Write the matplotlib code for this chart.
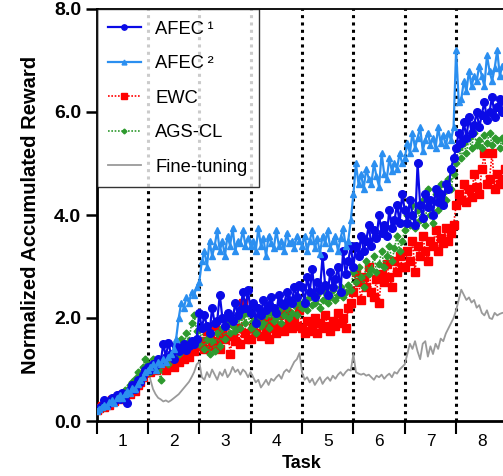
import matplotlib
matplotlib.use("Agg")
import matplotlib.pyplot as plt
import numpy as np

plt.rcParams['font.family'] = ['Liberation Sans', 'DejaVu Sans']

# ---------------- data (20 samples per task, 8 tasks) ----------------
tasks = [1, 2, 3, 4, 5, 6, 7, 8]
points_per_task = 20

afec1 = [
    0.22, 0.26, 0.30, 0.40, 0.32, 0.36, 0.45, 0.38, 0.50, 0.42, 0.55, 0.48, 0.35, 0.60, 0.70, 0.62, 0.80, 0.75, 0.90, 1.00,
    1.05, 1.00, 1.10, 1.08, 1.20, 1.15, 1.50, 1.25, 1.52, 1.30, 1.20, 1.45, 1.35, 1.40, 1.50, 1.38, 1.45, 1.55, 1.50, 1.60,
    2.10, 1.80, 2.05, 1.85, 1.70, 2.20, 1.90, 1.95, 2.45, 2.00, 1.85, 2.10, 2.00, 1.95, 2.30, 2.05, 2.15, 2.50, 2.20, 2.55,
    2.10, 2.30, 1.90, 2.20, 2.05, 2.35, 2.15, 2.25, 2.40, 2.20, 2.10, 2.45, 2.30, 2.25, 2.50, 2.35, 2.30, 2.60, 2.40, 2.65,
    2.60, 2.30, 2.80, 2.50, 2.95, 2.40, 2.70, 2.55, 3.20, 2.65, 2.45, 2.90, 2.60, 2.75, 3.00, 2.50, 3.30, 2.85, 3.10, 3.40,
    3.00, 3.40, 3.20, 3.60, 3.30, 3.50, 3.80, 3.40, 3.70, 3.55, 4.00, 3.65, 3.80, 3.60, 4.10, 3.75, 3.90, 4.20, 3.85, 4.40,
    4.10, 3.85, 4.30, 4.00, 3.80, 5.00, 4.20, 3.95, 4.40, 4.15, 4.30, 4.00, 4.50, 4.25, 4.40, 4.20, 4.60, 4.50, 4.90, 5.10,
    5.30, 5.60, 5.40, 5.80, 5.50, 5.90, 5.60, 5.75, 6.00, 5.70, 5.95, 6.20, 5.85, 6.00, 6.30, 5.90, 6.10, 6.25, 6.00, 6.20,
]

afec2 = [
    0.20, 0.24, 0.28, 0.32, 0.30, 0.36, 0.40, 0.35, 0.45, 0.50, 0.44, 0.52, 0.58, 0.55, 0.65, 0.62, 0.72, 0.80, 0.85, 0.95,
    1.00, 1.05, 1.10, 1.00, 1.15, 1.10, 1.20, 1.15, 1.25, 1.30, 1.40, 1.60, 2.00, 2.30, 2.20, 2.40, 2.30, 2.50, 2.45, 2.60,
    2.70, 3.10, 3.30, 3.00, 3.50, 3.20, 3.40, 3.70, 3.30, 3.50, 3.20, 3.60, 3.40, 3.75, 3.30, 3.50, 3.45, 3.70, 3.40, 3.55,
    3.40, 3.50, 3.30, 3.75, 3.40, 3.55, 3.20, 3.60, 3.45, 3.35, 3.70, 3.40, 3.50, 3.30, 3.65, 3.45, 3.50, 3.35, 3.60, 3.50,
    3.40, 3.60, 3.30, 3.50, 3.70, 3.35, 3.55, 3.25, 3.60, 3.45, 3.70, 3.35, 3.50, 3.60, 3.30, 3.55, 3.75, 3.40, 3.50, 3.90,
    4.40, 5.00, 4.60, 4.80, 4.50, 4.90, 4.70, 4.60, 5.00, 4.75, 4.55, 5.20, 4.80, 4.70, 5.10, 4.85, 5.00, 4.90, 5.20, 5.00,
    5.10, 5.40, 5.20, 5.60, 5.30, 5.50, 5.70, 5.25, 5.45, 5.60, 5.35, 5.50, 5.30, 5.70, 5.40, 5.55, 5.35, 5.60, 5.45, 5.70,
    7.20, 6.20, 6.25, 6.60, 6.40, 6.80, 6.50, 6.70, 6.60, 6.90, 6.70, 6.50, 7.10, 6.80, 6.60, 6.85, 7.20, 6.70, 6.90, 6.75,
]

ewc = [
    0.22, 0.26, 0.30, 0.28, 0.35, 0.32, 0.40, 0.38, 0.45, 0.42, 0.50, 0.48, 0.55, 0.52, 0.60, 0.58, 0.70, 0.75, 0.85, 0.95,
    1.00, 0.95, 1.05, 1.00, 1.10, 1.05, 1.15, 1.00, 1.20, 1.10, 1.05, 1.25, 1.15, 1.30, 1.20, 1.35, 1.25, 1.40, 1.35, 1.45,
    1.50, 1.55, 1.40, 1.75, 1.60, 1.45, 1.85, 1.55, 1.40, 1.70, 1.60, 1.90, 1.30, 1.65, 1.55, 1.80, 1.50, 2.30, 1.70, 1.60,
    1.60, 1.80, 1.70, 2.00, 1.65, 1.90, 1.75, 1.60, 1.95, 1.80, 1.70, 2.05, 1.85, 1.75, 2.10, 1.90, 1.80, 2.00, 1.85, 2.15,
    1.80, 1.70, 1.95, 1.75, 1.85, 2.00, 1.70, 1.90, 1.80, 2.05, 1.85, 1.75, 1.95, 1.85, 2.10, 1.90, 2.00, 1.80, 2.20, 2.30,
    2.50, 2.90, 2.70, 2.35, 2.80, 2.60, 3.00, 2.50, 2.40, 2.75, 2.30, 2.85, 2.70, 3.05, 2.80, 2.60, 3.10, 2.90, 3.20, 3.00,
    3.00, 3.30, 3.10, 3.50, 2.90, 3.40, 3.20, 3.60, 3.30, 3.10, 3.50, 3.40, 3.70, 3.30, 3.55, 3.45, 3.75, 3.50, 3.65, 3.80,
    4.20, 4.40, 4.30, 4.60, 4.25, 4.50, 4.35, 4.80, 4.55, 4.40, 4.90, 5.20, 4.60, 4.70, 5.20, 4.50, 4.80, 4.60, 4.70, 4.90,
]

agscl = [
    0.22, 0.26, 0.30, 0.28, 0.34, 0.38, 0.36, 0.42, 0.48, 0.45, 0.55, 0.60, 0.58, 0.70, 0.75, 0.82, 0.95, 0.90, 1.05, 1.20,
    1.10, 0.95, 1.20, 1.05, 1.00, 0.80, 1.15, 1.25, 1.10, 1.30, 1.20, 1.40, 1.30, 1.60, 1.45, 1.70, 1.55, 1.90, 2.05, 1.75,
    1.50, 1.80, 1.40, 1.60, 1.30, 1.55, 1.35, 1.70, 1.45, 1.80, 1.60, 1.90, 1.70, 1.85, 1.75, 2.00, 1.80, 2.05, 1.90, 2.10,
    1.80, 1.95, 1.70, 2.00, 1.85, 1.90, 2.05, 1.80, 2.10, 1.95, 2.00, 2.15, 1.90, 2.05, 2.20, 2.00, 2.10, 2.25, 2.05, 2.30,
    2.20, 2.35, 2.15, 2.40, 2.25, 2.30, 2.45, 2.20, 2.35, 2.50, 2.30, 2.40, 2.55, 2.35, 2.45, 2.60, 2.40, 2.50, 2.65, 2.55,
    2.90, 2.70, 3.00, 2.80, 2.60, 3.10, 2.85, 2.95, 3.20, 2.90, 3.05, 3.30, 3.00, 3.20, 3.40, 3.10, 3.35, 3.60, 3.30, 3.50,
    3.70, 4.00, 3.80, 4.20, 3.75, 4.10, 3.90, 4.30, 3.80, 4.50, 4.00, 3.85, 4.40, 4.10, 4.60, 4.20, 4.30, 4.70, 4.50, 4.80,
    5.00, 5.30, 5.10, 5.40, 5.20, 5.50, 5.30, 5.60, 5.35, 5.45, 5.30, 5.55, 5.40, 5.60, 5.35, 5.50, 5.45, 5.30, 5.50, 5.40,
]

finetune = [
    0.22, 0.25, 0.28, 0.32, 0.35, 0.38, 0.42, 0.45, 0.48, 0.52, 0.55, 0.58, 0.62, 0.66, 0.70, 0.75, 0.80, 0.85, 0.90, 0.95,
    1.05, 0.80, 0.62, 0.52, 0.45, 0.42, 0.38, 0.40, 0.37, 0.40, 0.44, 0.48, 0.52, 0.58, 0.64, 0.70, 0.76, 0.85, 0.95, 1.10,
    1.15, 0.85, 0.80, 0.95, 0.85, 1.00, 0.90, 0.80, 0.95, 0.88, 1.00, 0.85, 0.92, 1.05, 0.95, 1.00, 0.90, 1.00, 0.95, 0.85,
    0.95, 0.85, 0.75, 0.80, 0.65, 0.72, 0.80, 0.70, 0.82, 0.78, 0.85, 0.90, 0.82, 0.95, 1.00, 0.95, 1.05, 1.15, 1.20, 1.32,
    0.95, 0.80, 0.85, 0.75, 0.82, 0.70, 0.78, 0.85, 0.72, 0.80, 0.85, 0.78, 0.88, 0.82, 0.90, 0.95, 0.88, 0.95, 1.00, 0.98,
    1.30, 0.95, 0.92, 0.90, 0.92, 0.88, 0.90, 0.85, 0.80, 0.88, 0.85, 0.90, 0.82, 0.88, 0.92, 0.85, 0.95, 0.92, 1.00, 1.05,
    1.10, 1.30, 1.50, 1.40, 1.55, 1.35, 1.20, 1.50, 1.55, 1.25, 1.45, 1.30, 1.50, 1.40, 1.60, 1.55, 1.70, 1.80, 1.90, 2.00,
    2.15, 2.35, 2.55, 2.45, 2.35, 2.40, 2.30, 2.35, 2.20, 2.25, 2.10, 2.05, 2.15, 2.00, 1.98, 2.10, 2.05, 2.08, 2.10, 2.10,
]

x = np.arange(len(afec1)) / points_per_task

# ---------------- figure ----------------
fig = plt.figure(figsize=(5.03, 4.76), dpi=100)
ax = fig.add_axes([96.5 / 503, 55 / 476, 411 / 503, 412 / 476])

ax.plot(x, finetune, color='#9a9a9a', lw=1.3, label='Fine-tuning', zorder=2)
ax.plot(x, ewc, color='#ff0000', lw=1.2, ls=(0, (1, 1)), marker='s', ms=5.5, mec='#ff0000', mfc='#ff0000',
        label='EWC', zorder=3)
ax.plot(x, agscl, color='#2e9a2e', lw=1.2, ls=(0, (1, 1)), marker='D', ms=3.5, mec='#2e9a2e', mfc='#2e9a2e',
        label='AGS-CL', zorder=4)
ax.plot(x, afec1, color='#0a0ae6', lw=1.6, marker='o', ms=5.5, mec='#0a0ae6', mfc='#0a0ae6',
        label='AFEC\u2009¹', zorder=5)
ax.plot(x, afec2, color='#2b8ff0', lw=1.6, marker='^', ms=5, mec='#2b8ff0', mfc='#2b8ff0',
        label='AFEC\u2009²', zorder=6)

# task separators
for b in tasks[:-1]:
    ax.axvline(b, ymin=0, ymax=1, color='black', lw=2.2, ls=(0, (1, 1.4)), zorder=1)

ax.set_xlim(0, 8)
ax.set_ylim(0, 8)

ax.set_yticks([0, 2, 4, 6, 8])
ax.set_yticklabels(['0.0', '2.0', '4.0', '6.0', '8.0'], fontsize=14, fontweight='bold')
ax.set_xticks(range(0, 9))
ax.set_xticklabels([])
ax.set_xticks([t - 0.5 for t in tasks], minor=True)
ax.set_xticklabels([str(t) for t in tasks], minor=True, fontsize=12.5)
ax.tick_params(axis='x', which='minor', length=0, pad=9)
ax.tick_params(axis='x', which='major', length=9, width=1.5, direction='out')
ax.tick_params(axis='y', which='major', length=8, width=1.8, direction='out', pad=3)

for s in ['left', 'bottom']:
    ax.spines[s].set_linewidth(2)
ax.spines['top'].set_linewidth(1.3)
ax.spines['right'].set_visible(False)

ax.set_xlabel('Task', fontsize=13, fontweight='bold', labelpad=5)
ax.set_ylabel('Normalized Accumulated Reward', fontsize=14.5, fontweight='bold', labelpad=10)

handles, labels = ax.get_legend_handles_labels()
order = [3, 4, 1, 2, 0]
leg = ax.legend([handles[i] for i in order], [labels[i] for i in order],
                loc='upper left', bbox_to_anchor=(0, 1), fontsize=13.2, frameon=True, fancybox=False,
                edgecolor='black', markerscale=0.7, handlelength=1.75, handletextpad=0.8,
                labelspacing=0.95, borderpad=0.65, borderaxespad=0.0)
leg.get_frame().set_linewidth(1.0)
leg.set_zorder(10)

fig.savefig('out.png', dpi=100)
